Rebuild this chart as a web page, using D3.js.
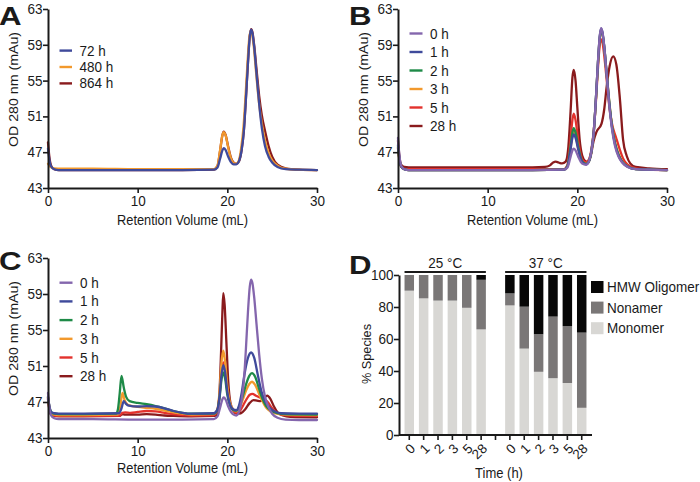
<!DOCTYPE html>
<html><head><meta charset="utf-8">
<script src="https://cdn.jsdelivr.net/npm/d3@7"></script>
<style>body{margin:0;background:#fff} svg{display:block}</style>
</head><body>
<svg id="chart" width="700" height="482"></svg>
<script>
// ---------- DATA ----------
const volTicks = [0, 10, 20, 30];
const odTicks = [43, 47, 51, 55, 59, 63];
const pctTicks = [0, 20, 40, 60, 80, 100];

// Panel A: [retention volume (mL), OD 280 (mAu)]
const a72h = [[0,47.4],[0.15,46.2],[0.35,45.4],[0.7,45.1],[1.2,45.0],[5,45.0],[10,45.0],[15,45.0],[18.5,45.05],[18.9,45.3],[19.2,46.3],[19.45,47.2],[19.6,47.45],[19.8,47.25],[20.1,46.5],[20.4,45.9],[20.7,45.65],[21.0,45.65],[21.3,46.0],[21.6,47.3],[21.85,49.5],[22.05,52.6],[22.3,57.0],[22.5,59.9],[22.65,60.7],[22.8,60.3],[23.0,58.7],[23.25,55.8],[23.55,52.4],[23.85,49.7],[24.2,47.7],[24.6,46.5],[25.0,45.85],[25.6,45.35],[26.5,45.1],[28,45.05],[30,45.0]];
const a480h = [[0,45.7],[0.3,45.35],[0.7,45.2],[1.5,45.15],[5,45.15],[10,45.1],[15,45.1],[18.5,45.1],[18.9,45.5],[19.2,47.3],[19.45,48.9],[19.6,49.25],[19.8,48.9],[20.1,47.5],[20.4,46.3],[20.7,45.8],[21.0,45.7],[21.3,46.1],[21.55,47.5],[21.8,49.8],[22.0,52.8],[22.25,57.0],[22.45,59.8],[22.6,60.5],[22.75,60.2],[22.95,58.8],[23.2,56.0],[23.5,52.8],[23.85,50.2],[24.2,48.3],[24.6,46.9],[25.0,46.1],[25.6,45.5],[26.5,45.15],[28,45.05],[30,45.0]];
const a864h = [[0,48.1],[0.15,46.5],[0.35,45.5],[0.7,45.1],[1.2,45.0],[5,45.0],[10,45.0],[15,45.0],[18.5,45.05],[18.9,45.45],[19.2,47.2],[19.45,48.9],[19.6,49.3],[19.8,48.95],[20.1,47.6],[20.4,46.4],[20.7,45.85],[21.0,45.7],[21.3,46.0],[21.6,47.3],[21.85,49.5],[22.05,52.6],[22.3,57.0],[22.5,59.9],[22.65,60.75],[22.8,60.4],[23.0,58.9],[23.25,56.3],[23.55,53.3],[23.85,51.1],[24.2,49.4],[24.6,47.7],[25.0,46.5],[25.6,45.6],[26.5,45.2],[28,45.05],[30,45.0]];

// Panel B
const b0h = [[0,48.6],[0.15,46.7],[0.35,45.5],[0.7,45.1],[1.2,45.0],[5,45.0],[10,45.0],[15,45.0],[18.5,45.05],[18.9,45.3],[19.2,46.3],[19.45,47.2],[19.6,47.4],[19.8,47.2],[20.1,46.5],[20.4,45.9],[20.7,45.65],[21.0,45.6],[21.3,46.0],[21.6,47.3],[21.85,49.5],[22.05,52.6],[22.3,57.1],[22.5,60.0],[22.65,60.85],[22.8,60.4],[23.0,58.8],[23.25,55.9],[23.55,52.4],[23.85,49.7],[24.2,47.7],[24.6,46.5],[25.0,45.85],[25.6,45.35],[26.5,45.1],[28,45.05],[30,45.0]];
const b1h = [[0,47.8],[0.15,46.4],[0.35,45.4],[0.7,45.1],[1.2,45.0],[5,45.0],[10,45.0],[15,45.0],[18.5,45.05],[18.9,45.4],[19.2,47.0],[19.45,48.6],[19.6,49.0],[19.8,48.6],[20.1,47.3],[20.4,46.2],[20.7,45.75],[21.0,45.65],[21.3,46.0],[21.6,47.3],[21.85,49.5],[22.05,52.6],[22.3,57.0],[22.5,59.9],[22.65,60.8],[22.8,60.4],[23.0,58.8],[23.25,56.0],[23.55,52.6],[23.85,49.9],[24.2,47.9],[24.6,46.6],[25.0,45.9],[25.6,45.4],[26.5,45.1],[28,45.05],[30,45.0]];
const b2h = [[0,47.6],[0.15,46.3],[0.35,45.4],[0.7,45.1],[1.2,45.0],[5,45.0],[10,45.0],[15,45.0],[18.5,45.05],[18.9,45.45],[19.2,47.3],[19.45,49.2],[19.6,49.7],[19.8,49.2],[20.1,47.6],[20.4,46.3],[20.7,45.8],[21.0,45.7],[21.3,46.0],[21.6,47.3],[21.85,49.5],[22.05,52.6],[22.3,57.0],[22.5,59.8],[22.65,60.7],[22.8,60.3],[23.0,58.8],[23.25,56.0],[23.55,52.7],[23.85,50.0],[24.2,48.0],[24.6,46.7],[25.0,45.95],[25.6,45.4],[26.5,45.1],[28,45.05],[30,45.0]];
const b3h = [[0,47.5],[0.15,46.2],[0.35,45.4],[0.7,45.1],[1.2,45.0],[5,45.0],[10,45.0],[15,45.0],[18.5,45.05],[18.9,45.45],[19.2,47.1],[19.45,48.9],[19.6,49.4],[19.8,48.9],[20.1,47.4],[20.4,46.2],[20.7,45.8],[21.0,45.7],[21.3,46.0],[21.6,47.3],[21.85,49.5],[22.05,52.5],[22.3,56.9],[22.5,59.7],[22.65,60.6],[22.8,60.2],[23.0,58.7],[23.25,56.0],[23.55,52.8],[23.85,50.1],[24.2,48.1],[24.6,46.8],[25.0,46.0],[25.6,45.45],[26.5,45.1],[28,45.05],[30,45.0]];
const b5h = [[0,47.4],[0.15,46.2],[0.35,45.4],[0.7,45.15],[1.2,45.1],[5,45.1],[10,45.1],[15,45.1],[18.5,45.1],[18.9,45.6],[19.2,48.0],[19.45,50.6],[19.6,51.3],[19.8,50.6],[20.1,48.3],[20.4,46.6],[20.7,46.0],[21.0,45.9],[21.3,46.2],[21.6,47.5],[21.85,49.6],[22.05,52.3],[22.3,56.4],[22.5,59.0],[22.65,59.6],[22.8,59.3],[23.0,57.8],[23.3,54.8],[23.6,51.8],[23.9,50.0],[24.3,48.7],[24.7,47.4],[25.1,46.3],[25.6,45.6],[26.5,45.2],[28,45.05],[30,45.0]];
const b28h = [[0,48.3],[0.15,46.6],[0.35,45.6],[0.7,45.35],[1.2,45.3],[5,45.3],[10,45.3],[15,45.3],[16.4,45.35],[16.9,45.5],[17.3,45.85],[17.6,45.95],[17.9,45.85],[18.3,45.75],[18.7,45.95],[19.0,47.6],[19.25,51.6],[19.45,55.3],[19.6,56.2],[19.8,55.0],[20.0,52.0],[20.25,48.5],[20.55,46.6],[20.9,46.0],[21.2,45.9],[21.5,46.6],[21.8,48.2],[22.15,49.3],[22.7,50.2],[23.0,51.8],[23.27,54.3],[23.6,56.6],[24.0,57.7],[24.35,56.8],[24.76,52.8],[25.1,48.4],[25.5,46.6],[25.9,45.75],[26.5,45.35],[28,45.2],[30,45.1]];

// Panel C
const c0h = [[0,48.0],[0.15,46.4],[0.35,45.5],[0.7,45.2],[1.2,45.1],[5,45.1],[10,45.05],[15,45.05],[18.5,45.1],[18.9,45.4],[19.2,46.4],[19.45,47.3],[19.6,47.5],[19.8,47.3],[20.1,46.5],[20.4,45.9],[20.7,45.6],[21.0,45.5],[21.3,45.9],[21.6,47.2],[21.85,49.4],[22.05,52.5],[22.3,57.0],[22.5,59.8],[22.65,60.6],[22.8,60.2],[23.0,58.6],[23.25,55.7],[23.55,52.3],[23.85,49.6],[24.2,47.6],[24.6,46.4],[25.0,45.7],[25.6,45.25],[26.5,45.05],[28,45.0],[30,45.0]];
const c1h = [[0,47.6],[0.15,46.6],[0.35,45.9],[0.7,45.75],[1.2,45.7],[4,45.7],[7.9,45.75],[8.2,46.3],[8.45,47.1],[8.7,46.8],[9.0,46.6],[10,46.5],[11,46.55],[12,46.5],[13,46.3],[14,46.0],[15,45.8],[16,45.7],[18.5,45.75],[18.9,46.2],[19.15,47.8],[19.35,50.0],[19.55,51.1],[19.75,50.3],[20.0,48.1],[20.3,46.7],[20.7,46.15],[21.0,46.1],[21.3,46.6],[21.6,48.0],[21.9,50.0],[22.3,51.9],[22.65,52.5],[23.0,51.9],[23.4,50.0],[23.8,48.2],[24.2,47.1],[24.7,46.4],[25.3,45.95],[26,45.75],[28,45.7],[30,45.7]];
const c2h = [[0,47.5],[0.15,46.5],[0.35,45.9],[0.7,45.7],[1.2,45.65],[4,45.65],[7.6,45.7],[7.8,46.2],[8.0,48.0],[8.2,49.9],[8.45,48.6],[8.7,47.6],[9.1,47.1],[10,46.9],[11,46.75],[12,46.55],[13,46.3],[14,46.0],[15,45.8],[16,45.7],[18.5,45.7],[18.9,46.1],[19.15,47.6],[19.35,49.5],[19.55,50.3],[19.75,49.6],[20.0,47.8],[20.3,46.6],[20.7,46.1],[21.0,46.05],[21.3,46.4],[21.7,47.6],[22.1,49.0],[22.45,49.9],[22.75,50.2],[23.1,49.8],[23.5,48.6],[23.9,47.4],[24.3,46.6],[24.8,46.1],[25.5,45.8],[26.5,45.65],[30,45.6]];
const c3h = [[0,47.5],[0.15,46.5],[0.35,45.8],[0.7,45.6],[1.2,45.55],[4,45.55],[7.8,45.6],[8.05,46.4],[8.3,48.0],[8.55,47.2],[8.9,46.7],[10,46.45],[11,46.35],[12,46.25],[13,46.05],[14,45.85],[15,45.7],[16,45.6],[18.5,45.65],[18.9,46.2],[19.15,48.4],[19.35,51.4],[19.55,52.7],[19.75,51.5],[20.0,48.8],[20.3,46.9],[20.7,46.1],[21.0,45.95],[21.3,46.2],[21.7,47.2],[22.1,48.3],[22.45,49.0],[22.75,49.25],[23.1,48.9],[23.5,48.0],[23.9,47.1],[24.3,46.4],[24.8,45.95],[25.5,45.7],[26.5,45.6],[30,45.55]];
const c5h = [[0,47.4],[0.15,46.3],[0.35,45.7],[0.7,45.5],[1.2,45.45],[4,45.45],[8.0,45.5],[8.3,45.8],[8.6,45.85],[9.2,45.8],[10,45.9],[11,46.0],[12,45.95],[13,45.8],[14,45.65],[15,45.55],[16,45.5],[18.5,45.55],[18.9,46.1],[19.15,48.0],[19.35,50.3],[19.55,51.4],[19.75,50.5],[20.0,48.3],[20.3,46.7],[20.7,46.0],[21.0,45.8],[21.4,46.0],[21.8,46.7],[22.2,47.4],[22.5,47.8],[22.8,47.9],[23.2,47.7],[23.6,47.5],[24.0,47.4],[24.5,47.0],[25.0,46.3],[25.5,45.8],[26,45.6],[27,45.5],[30,45.45]];
const c28h = [[0,47.3],[0.15,46.2],[0.35,45.6],[0.7,45.45],[1.2,45.4],[4,45.4],[8.0,45.45],[8.3,45.65],[8.6,45.6],[10,45.6],[11,45.65],[12,45.6],[13,45.5],[14,45.45],[16,45.4],[18.6,45.45],[18.9,45.8],[19.1,47.5],[19.3,52.5],[19.45,57.0],[19.55,59.1],[19.7,57.8],[19.9,53.5],[20.1,49.3],[20.35,46.9],[20.7,46.0],[21.0,45.7],[21.5,45.75],[22.0,46.2],[22.5,46.9],[22.9,47.2],[23.3,47.15],[23.7,47.1],[24.1,47.45],[24.45,47.7],[24.8,47.35],[25.2,46.5],[25.6,45.85],[26.2,45.5],[27,45.35],[30,45.3]];

// Panel D: % species
const timeLabels = ["0", "1", "2", "3", "5", "28"];
const tempGroups = ["25 °C", "37 °C"];
const speciesKeys = ["Monomer", "Nonamer", "HMW Oligomer"];
const monomer25 = [90.2, 85.4, 84, 84, 79.5, 66];
const nonamer25 = [9.8, 14.6, 16, 16, 20.5, 31];
const hmw25 = [0, 0, 0, 0, 0, 3];
const monomer37 = [81, 54, 39.5, 35.5, 32.5, 17];
const nonamer37 = [7.5, 26.2, 23.5, 38.5, 35.5, 47];
const hmw37 = [11.5, 19.8, 37, 26, 32, 36];

// ---------- STYLE ----------
const FONT = "'Liberation Sans', Arial, Helvetica, sans-serif";
const SY = 1.06;
const INK = "#1a1a1a";
const COL = {
  purple: "#8466ad", blue: "#3f4a9b", green: "#1e8a47",
  orange: "#f2992d", red: "#e3322d", dark: "#8a1b1d"
};

const svg = d3.select("#chart");

function hText(g, x, y, str, size, anchor, opts = {}) {
  const t = g.append("text")
    .attr("transform", `translate(${x},${y}) scale(${opts.sx || 1},${opts.sy || SY})`)
    .attr("text-anchor", anchor || "start")
    .attr("font-size", size)
    .attr("font-family", FONT)
    .attr("font-weight", opts.weight || "normal")
    .attr("fill", INK)
    .text(str);
  if (opts.len) t.attr("textLength", opts.len).attr("lengthAdjust", "spacingAndGlyphs");
  return t;
}
function vText(g, x, y, str, size, len) {
  return g.append("text")
    .attr("transform", `translate(${x},${y}) rotate(-90)`)
    .attr("text-anchor", "middle")
    .attr("font-size", size)
    .attr("font-family", FONT)
    .attr("fill", INK)
    .attr("textLength", len).attr("lengthAdjust", "spacingAndGlyphs")
    .text(str);
}
function styleAxis(g, size) {
  g.attr("font-size", null).attr("font-family", null);
  g.select(".domain").attr("stroke", INK).attr("stroke-width", 2);
  g.selectAll(".tick line").attr("stroke", INK).attr("stroke-width", 1.6);
  g.selectAll(".tick text")
    .attr("font-size", size).attr("font-family", FONT).attr("fill", INK)
    .attr("transform", `scale(1,${SY})`);
}

function chromPanel(p) {
  const g = svg.append("g");
  const x = d3.scaleLinear([0, 30], [p.x0, p.x1]);
  const y = d3.scaleLinear([43, 63], [p.yb, p.yt]);

  const line = d3.line().x(d => x(d[0])).y(d => y(d[1])).curve(d3.curveMonotoneX);
  // draw last series first so the first sits on top
  p.series.slice().reverse().forEach(s => {
    g.append("path").datum(s.data)
      .attr("d", line)
      .attr("fill", "none")
      .attr("stroke", s.color)
      .attr("stroke-width", 2.3)
      .attr("stroke-linejoin", "round")
      .attr("stroke-linecap", "round");
  });

  const gx = g.append("g").attr("transform", `translate(0,${p.yb})`)
    .call(d3.axisBottom(x).tickValues(volTicks).tickSize(5).tickSizeOuter(0).tickPadding(2.5));
  styleAxis(gx, 13.5);
  const gy = g.append("g").attr("transform", `translate(${p.x0},0)`)
    .call(d3.axisLeft(y).tickValues(odTicks).tickSize(5).tickSizeOuter(0).tickPadding(0.5));
  styleAxis(gy, 13.5);

  hText(g, (p.x0 + p.x1) / 2, p.xTitleY, "Retention Volume (mL)", 13, "middle", { len: 131 });
  vText(g, p.yTitleX, p.yTitleCY, "OD 280 nm (mAu)", 13.5, p.yTitleLen);

  // legend
  p.series.forEach((s, i) => {
    const cy = p.leg.cy0 + i * p.leg.dy;
    g.append("line").attr("x1", p.leg.lx0).attr("x2", p.leg.lx1)
      .attr("y1", cy).attr("y2", cy)
      .attr("stroke", s.color).attr("stroke-width", 2.4);
    hText(g, p.leg.tx, cy + 5, s.name, 13.5, "start");
  });

  hText(g, p.letterX, p.letterY, p.letter, 26, "start", { weight: "bold", sx: 1.2, sy: 1 });
}

chromPanel({
  x0: 48, x1: 317, yb: 188, yt: 9,
  xTitleY: 225, yTitleX: 17.5, yTitleCY: 89.5, yTitleLen: 115,
  letter: "A", letterX: -1, letterY: 25,
  leg: { lx0: 59.5, lx1: 72, tx: 79.5, cy0: 50.6, dy: 16.4 },
  series: [
    { name: "72 h", color: COL.blue, data: a72h },
    { name: "480 h", color: COL.orange, data: a480h },
    { name: "864 h", color: COL.dark, data: a864h }
  ]
});
chromPanel({
  x0: 398, x1: 667, yb: 188, yt: 9,
  xTitleY: 225, yTitleX: 367.5, yTitleCY: 89.5, yTitleLen: 115,
  letter: "B", letterX: 349, letterY: 25,
  leg: { lx0: 409.5, lx1: 422.5, tx: 430, cy0: 33.5, dy: 18.5 },
  series: [
    { name: "0 h", color: COL.purple, data: b0h },
    { name: "1 h", color: COL.blue, data: b1h },
    { name: "2 h", color: COL.green, data: b2h },
    { name: "3 h", color: COL.orange, data: b3h },
    { name: "5 h", color: COL.red, data: b5h },
    { name: "28 h", color: COL.dark, data: b28h }
  ]
});
chromPanel({
  x0: 48, x1: 317, yb: 438, yt: 258,
  xTitleY: 473, yTitleX: 17.5, yTitleCY: 338.5, yTitleLen: 115,
  letter: "C", letterX: -1, letterY: 270,
  leg: { lx0: 59.5, lx1: 72.5, tx: 80, cy0: 282.7, dy: 18.7 },
  series: [
    { name: "0 h", color: COL.purple, data: c0h },
    { name: "1 h", color: COL.blue, data: c1h },
    { name: "2 h", color: COL.green, data: c2h },
    { name: "3 h", color: COL.orange, data: c3h },
    { name: "5 h", color: COL.red, data: c5h },
    { name: "28 h", color: COL.dark, data: c28h }
  ]
});

// ---------- Panel D ----------
(function () {
  const g = svg.append("g");
  const rows = [];
  timeLabels.forEach((t, i) => rows.push({ key: "25|" + t, label: t, "Monomer": monomer25[i], "Nonamer": nonamer25[i], "HMW Oligomer": hmw25[i] }));
  rows.push({ key: "gap", label: "", "Monomer": 0, "Nonamer": 0, "HMW Oligomer": 0 });
  timeLabels.forEach((t, i) => rows.push({ key: "37|" + t, label: t, "Monomer": monomer37[i], "Nonamer": nonamer37[i], "HMW Oligomer": hmw37[i] }));

  const x = d3.scaleBand().domain(rows.map(r => r.key)).range([399, 592]).paddingInner(0.34).paddingOuter(0.385);
  const y = d3.scaleLinear([0, 100], [435, 275]);
  const color = d3.scaleOrdinal(speciesKeys, ["#d8d7d4", "#7a7777", "#070707"]);

  const stacked = d3.stack().keys(speciesKeys)(rows.filter(r => r.key !== "gap"));
  g.selectAll("g.layer").data(stacked).join("g").attr("fill", d => color(d.key))
    .selectAll("rect").data(d => d.filter(v => v[1] - v[0] > 0)).join("rect")
    .attr("x", d => x(d.data.key))
    .attr("width", x.bandwidth())
    .attr("y", d => y(d[1]))
    .attr("height", d => y(d[0]) - y(d[1]));

  const gx = g.append("g").attr("transform", "translate(0,435)")
    .call(d3.axisBottom(x).tickSize(5).tickSizeOuter(0).tickFormat(k => (rows.find(r => r.key === k) || {}).label || ""));
  gx.select(".domain").attr("d", "M399,0H592");
  styleAxis(gx, 13.5);
  gx.selectAll(".tick text")
    .attr("x", 0).attr("y", 0).attr("dy", "0.35em")
    .attr("text-anchor", "end")
    .attr("transform", "translate(3.5,11) rotate(-45)");

  const gy = g.append("g").attr("transform", "translate(399,0)")
    .call(d3.axisLeft(y).tickValues(pctTicks).tickSize(5).tickSizeOuter(0).tickPadding(0.5));
  styleAxis(gy, 13.5);

  // group brackets
  tempGroups.forEach((lab, gi) => {
    const keys = timeLabels.map(t => (gi === 0 ? "25|" : "37|") + t);
    const xa = x(keys[0]), xb = x(keys[keys.length - 1]) + x.bandwidth();
    g.append("line").attr("x1", xa).attr("x2", xb).attr("y1", 272).attr("y2", 272)
      .attr("stroke", INK).attr("stroke-width", 2);
    hText(g, (xa + xb) / 2, 267.5, lab, 13.5, "middle");
  });

  hText(g, 499, 478, "Time (h)", 13, "middle");
  vText(g, 371, 354, "% Species", 13, 60);

  // legend (HMW on top)
  const legOrder = ["HMW Oligomer", "Nonamer", "Monomer"];
  legOrder.forEach((k, i) => {
    const cy = 287 + i * 20.6;
    g.append("rect").attr("x", 591).attr("y", cy - 6).attr("width", 12.5).attr("height", 12).attr("fill", color(k));
    hText(g, 607, cy + 5, k, 13.5, "start");
  });

  hText(g, 349, 274, "D", 26, "start", { weight: "bold", sx: 1.2, sy: 1 });
})();
</script></body></html>
